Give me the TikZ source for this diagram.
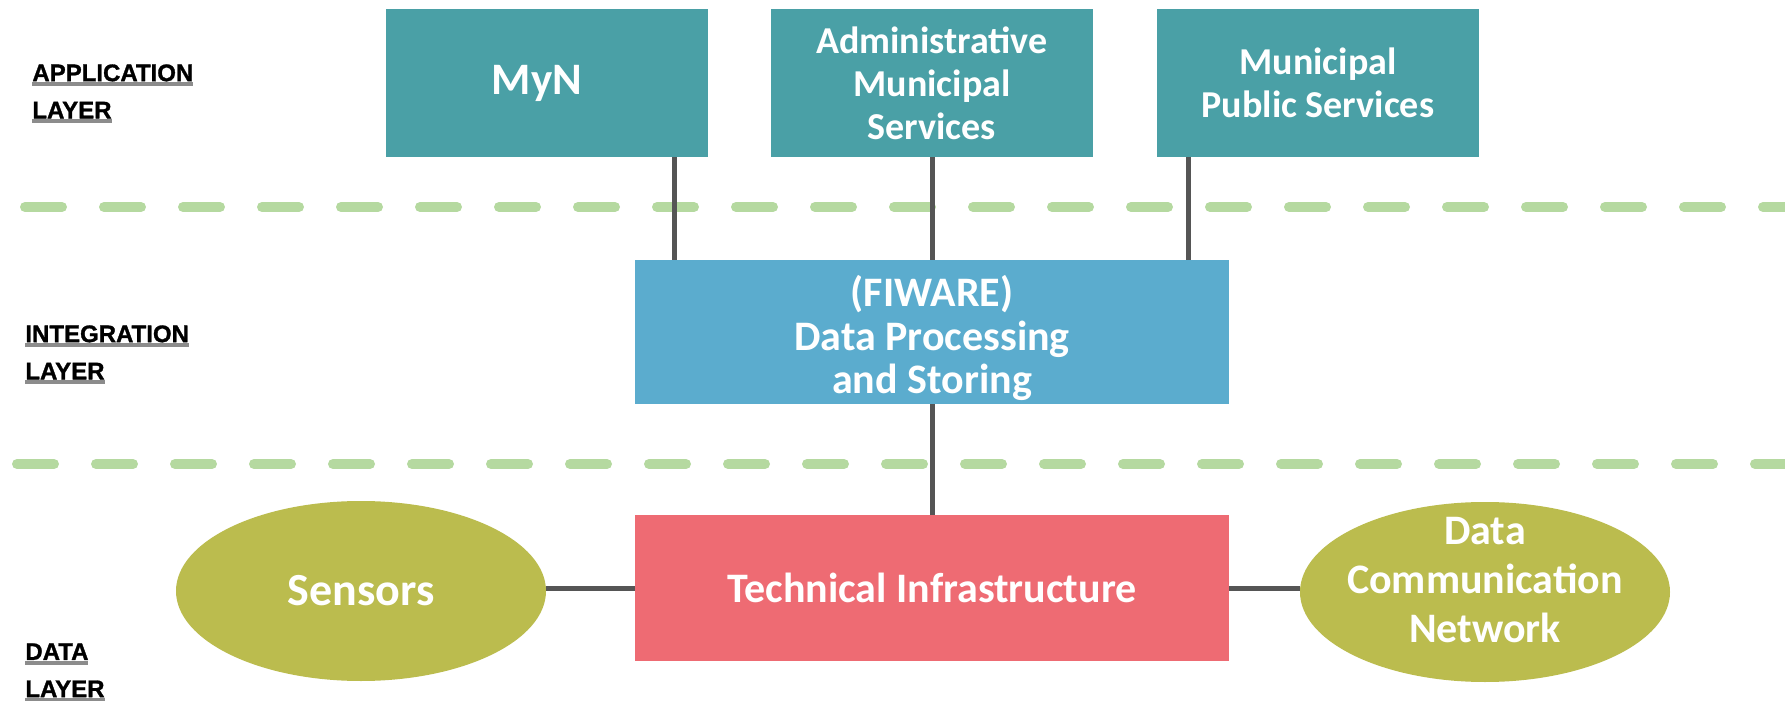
\documentclass[tikz,border=0pt]{standalone}
\usepackage{fontspec}
\setmainfont{Carlito}
\newfontfamily\layerfont{Liberation Sans}[BoldFeatures={FakeBold=1.2}]
\usetikzlibrary{shapes.geometric}

\definecolor{appteal}{HTML}{4AA0A6}
\definecolor{intblue}{HTML}{5BACCE}
\definecolor{infred}{HTML}{EE6B73}
\definecolor{dataolive}{HTML}{BBBC4E}
\definecolor{sepgreen}{HTML}{B5D9A0}
\definecolor{linkgrey}{HTML}{555555}

% underlined layer caption
\newcommand\layerul[1]{\setbox0\hbox{#1}\rlap{\textcolor{black!45}{\rule[-2.4pt]{\wd0}{2pt}}}\box0}

\begin{document}
\begin{tikzpicture}[x=0.5pt, y=-0.5pt,
	every node/.style={text=white, font=\bfseries\fontsize{19}{21.5}\selectfont, align=center, inner sep=0pt},
	appbox/.style={fill=appteal, minimum width=161pt, minimum height=74pt},
	intbox/.style={fill=intblue, minimum width=297pt, minimum height=72pt},
	infbox/.style={fill=infred, minimum width=297pt, minimum height=73pt},
	databall/.style={ellipse, fill=dataolive, minimum width=185pt, minimum height=90pt},
	link/.style={draw=linkgrey, line width=2.5pt},
	layersep/.style={draw=sepgreen, line width=5pt, line cap=round, dash pattern=on 18.5pt off 21pt},
	layerlbl/.style={text=black, anchor=north west, align=left, font=\layerfont\bfseries\fontsize{12}{18.6}\selectfont}]
	\useasboundingbox (0,0) rectangle (1785,701);
	\draw[layersep] (25,207) -- (1785,207);
	\draw[layersep] (17,464) -- (1785,464);
	\node[layerlbl] (applbl) at (32,64) {\layerul{APPLICATION}\\\layerul{LAYER}};
	\node[layerlbl] (intlbl) at (25,325) {\layerul{INTEGRATION}\\\layerul{LAYER}};
	\node[layerlbl] (datalbl) at (25,643) {\layerul{DATA}\\\layerul{LAYER}};
	\node[appbox] (myn) at (547,83) {\hspace*{-10pt}\fontsize{22.5}{24}\selectfont MyN};
	\node[appbox] (admin) at (932,83) {Administrative\\Municipal\\Services};
	\node[appbox] (public) at (1318,83) {Municipal\\Public Services};
	\node[intbox, font=\bfseries\fontsize{21}{21.6}\selectfont] (fiware) at (932,332) {};
	\node (fiwaretext) at ([yshift=-3pt]fiware.center) [font=\bfseries\fontsize{21}{21.6}\selectfont] {(FIWARE)\\Data Processing\\and Storing};
	\node[infbox, font=\bfseries\fontsize{21}{23}\selectfont] (tech) at (932,588) {Technical Infrastructure};
	\node[databall, font=\bfseries\fontsize{23}{24}\selectfont] (sensors) at (361,591) {Sensors};
	\node[databall] (dcn) at (1485,592) {};
	\node (dcntext) at ([yshift=6pt]dcn.center) [font=\bfseries\fontsize{21}{24.5}\selectfont] {Data\\Communication\\Network};
	\draw[link] ([xshift=-17pt]myn.south east) -- ([xshift=-17pt]myn.south east |- fiware.north);
	\draw[link] (admin) -- (fiware);
	\draw[link] ([xshift=16pt]public.south west) -- ([xshift=16pt]public.south west |- fiware.north);
	\draw[link] (fiware) -- (tech);
	\draw[link] (sensors.east |- tech.west) -- (tech.west);
	\draw[link] (tech.east) -- (dcn.west |- tech.east);
\end{tikzpicture}
\end{document}
